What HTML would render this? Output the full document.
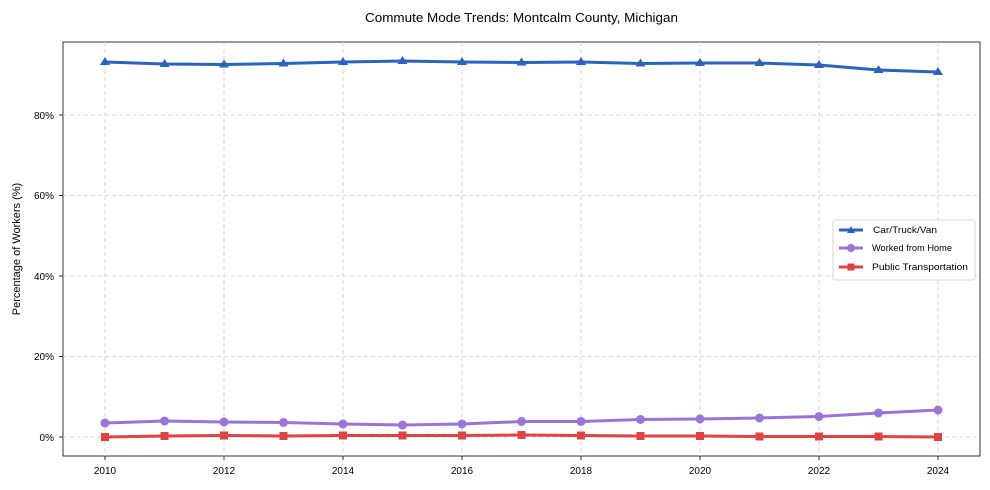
<!DOCTYPE html>
<html><head><meta charset="utf-8"><style>body{margin:0;background:#fff}svg{display:block}text{font-family:"Liberation Sans",sans-serif;fill:#000}</style></head><body>
<svg width="990" height="490" xmlns="http://www.w3.org/2000/svg">
<text x="365" y="22" font-size="13" textLength="313" lengthAdjust="spacingAndGlyphs">Commute Mode Trends: Montcalm County, Michigan</text>
<rect x="63" y="42" width="917" height="414" fill="none" stroke="#000" stroke-width="0.8"/>
<g stroke="#ccc" stroke-width="0.8" stroke-dasharray="4,3">
<line x1="105" y1="42" x2="105" y2="456"/><line x1="224" y1="42" x2="224" y2="456"/><line x1="343" y1="42" x2="343" y2="456"/><line x1="462" y1="42" x2="462" y2="456"/><line x1="581" y1="42" x2="581" y2="456"/><line x1="700" y1="42" x2="700" y2="456"/><line x1="819" y1="42" x2="819" y2="456"/><line x1="938" y1="42" x2="938" y2="456"/>
<line x1="63" y1="437" x2="980" y2="437"/><line x1="63" y1="356.5" x2="980" y2="356.5"/><line x1="63" y1="276" x2="980" y2="276"/><line x1="63" y1="195.5" x2="980" y2="195.5"/><line x1="63" y1="115" x2="980" y2="115"/>
</g>
<g font-size="10" text-anchor="middle">
<text x="105" y="474">2010</text><text x="224" y="474">2012</text><text x="343" y="474">2014</text><text x="462" y="474">2016</text><text x="581" y="474">2018</text><text x="700" y="474">2020</text><text x="819" y="474">2022</text><text x="938" y="474">2024</text>
</g>
<g font-size="10" text-anchor="end">
<text x="54" y="441">0%</text><text x="54" y="360">20%</text><text x="54" y="280">40%</text><text x="54" y="199">60%</text><text x="54" y="119">80%</text>
</g>
<text transform="translate(20,249) rotate(-90)" font-size="11" text-anchor="middle">Percentage of Workers (%)</text>
<g stroke="#000" stroke-width="0.8">
<line x1="105" y1="456" x2="105" y2="460"/><line x1="224" y1="456" x2="224" y2="460"/><line x1="343" y1="456" x2="343" y2="460"/><line x1="462" y1="456" x2="462" y2="460"/><line x1="581" y1="456" x2="581" y2="460"/><line x1="700" y1="456" x2="700" y2="460"/><line x1="819" y1="456" x2="819" y2="460"/><line x1="938" y1="456" x2="938" y2="460"/>
<line x1="59" y1="437" x2="63" y2="437"/><line x1="59" y1="356.5" x2="63" y2="356.5"/><line x1="59" y1="276" x2="63" y2="276"/><line x1="59" y1="195.5" x2="63" y2="195.5"/><line x1="59" y1="115" x2="63" y2="115"/>
</g>
<polyline fill="none" stroke="#2b63bf" stroke-width="3" points="105,62 164.5,64 224,64.5 283.5,63.5 343,62 402.5,61 462,62 521.5,62.5 581,62 640.5,63.5 700,63 759.5,63 819,65 878.5,70 938,72"/>
<g fill="#2b63bf">
<path d="M105,57l5,8h-10z"/><path d="M164.5,59l5,8h-10z"/><path d="M224,59.5l5,8h-10z"/><path d="M283.5,58.5l5,8h-10z"/><path d="M343,57l5,8h-10z"/><path d="M402.5,56l5,8h-10z"/><path d="M462,57l5,8h-10z"/><path d="M521.5,57.5l5,8h-10z"/><path d="M581,57l5,8h-10z"/><path d="M640.5,58.5l5,8h-10z"/><path d="M700,58l5,8h-10z"/><path d="M759.5,58l5,8h-10z"/><path d="M819,60l5,8h-10z"/><path d="M878.5,65l5,8h-10z"/><path d="M938,67l5,8h-10z"/>
</g>
<polyline fill="none" stroke="#9b74d9" stroke-width="3" points="105,423 164.5,421 224,422 283.5,422.5 343,424 402.5,425 462,424 521.5,421.5 581,421.5 640.5,419.5 700,419 759.5,418 819,416.5 878.5,413 938,410"/>
<g fill="#9b74d9">
<circle cx="105" cy="423" r="4.5"/><circle cx="164.5" cy="421" r="4.5"/><circle cx="224" cy="422" r="4.5"/><circle cx="283.5" cy="422.5" r="4.5"/><circle cx="343" cy="424" r="4.5"/><circle cx="402.5" cy="425" r="4.5"/><circle cx="462" cy="424" r="4.5"/><circle cx="521.5" cy="421.5" r="4.5"/><circle cx="581" cy="421.5" r="4.5"/><circle cx="640.5" cy="419.5" r="4.5"/><circle cx="700" cy="419" r="4.5"/><circle cx="759.5" cy="418" r="4.5"/><circle cx="819" cy="416.5" r="4.5"/><circle cx="878.5" cy="413" r="4.5"/><circle cx="938" cy="410" r="4.5"/>
</g>
<polyline fill="none" stroke="#e04343" stroke-width="3" points="105,437 164.5,436 224,435.5 283.5,436 343,435.5 402.5,435.5 462,435.5 521.5,435 581,435.5 640.5,436 700,436 759.5,436.5 819,436.5 878.5,436.5 938,437"/>
<g fill="#e04343">
<rect x="101" y="433" width="8" height="8"/><rect x="160.5" y="432" width="8" height="8"/><rect x="220" y="431.5" width="8" height="8"/><rect x="279.5" y="432" width="8" height="8"/><rect x="339" y="431.5" width="8" height="8"/><rect x="398.5" y="431.5" width="8" height="8"/><rect x="458" y="431.5" width="8" height="8"/><rect x="517.5" y="431" width="8" height="8"/><rect x="577" y="431.5" width="8" height="8"/><rect x="636.5" y="432" width="8" height="8"/><rect x="696" y="432" width="8" height="8"/><rect x="755.5" y="432.5" width="8" height="8"/><rect x="815" y="432.5" width="8" height="8"/><rect x="874.5" y="432.5" width="8" height="8"/><rect x="934" y="433" width="8" height="8"/>
</g>
<rect x="833" y="220" width="142" height="60" fill="#fff" stroke="#ccc" stroke-width="0.8" rx="2"/>
<line x1="839" y1="230" x2="863" y2="230" stroke="#2b63bf" stroke-width="3"/><path d="M851,226l4,7h-8z" fill="#2b63bf"/>
<line x1="839" y1="248" x2="863" y2="248" stroke="#9b74d9" stroke-width="3"/><circle cx="851" cy="248" r="4" fill="#9b74d9"/>
<line x1="839" y1="267" x2="863" y2="267" stroke="#e04343" stroke-width="3"/><rect x="847.5" y="263.5" width="7" height="7" fill="#e04343"/>
<g font-size="9.5"><text x="873" y="233" textLength="64" lengthAdjust="spacingAndGlyphs">Car/Truck/Van</text><text x="872" y="251" textLength="80" lengthAdjust="spacingAndGlyphs">Worked from Home</text><text x="872" y="270" textLength="96" lengthAdjust="spacingAndGlyphs">Public Transportation</text></g>
</svg>
</body></html>
